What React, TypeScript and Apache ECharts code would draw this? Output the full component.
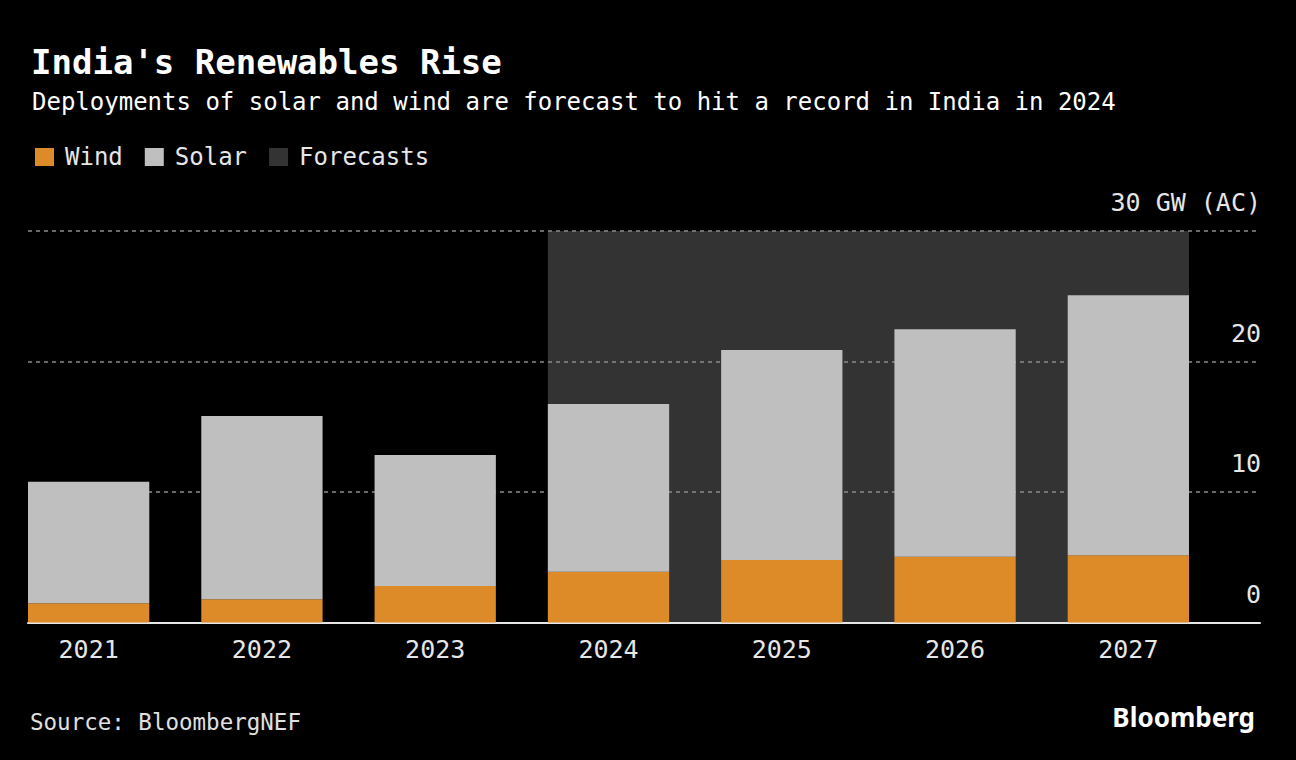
import React, { useEffect, useRef } from "react";
import * as echarts from "echarts";

const categories = ["2021", "2022", "2023", "2024", "2025", "2026", "2027"];
const windValues = [1.47, 1.78, 2.8, 3.89, 4.79, 5.04, 5.15];
const solarValues = [9.32, 14.04, 10.04, 12.85, 16.09, 17.43, 19.92];
const yTicks = [0, 10, 20, 30];
const forecastStart = "2024";
const forecastEnd = "2027";

const FONT = "'DejaVu Sans Mono', monospace";
const LOGO_FONT = "'Noto Sans', 'DejaVu Sans', sans-serif";

export default function App() {
  const ref = useRef<HTMLDivElement>(null);
  useEffect(() => {
    if (!ref.current) return;
    const chart = echarts.init(ref.current, undefined, { renderer: "svg" });
    const yMax = yTicks[yTicks.length - 1];
    const option: any = {
      animation: false,
      backgroundColor: "#000000",
      textStyle: { fontFamily: FONT },
      title: [
        {
          text: "India's Renewables Rise",
          left: 26,
          top: 40,
          textStyle: { color: "#ffffff", fontSize: 34, fontWeight: "bold", fontFamily: FONT },
        },
        {
          text: "Deployments of solar and wind are forecast to hit a record in India in 2024",
          left: 27,
          top: 85,
          textStyle: { color: "#ffffff", fontSize: 24, fontWeight: "normal", fontFamily: FONT },
        },
        {
          text: "Source: BloombergNEF",
          left: 25,
          top: 705,
          textStyle: { color: "#e0e0e0", fontSize: 22.5, fontWeight: "normal", fontFamily: FONT },
        },
        {
          text: "Bloomberg",
          right: 36,
          top: 699,
          textStyle: { color: "#ffffff", fontSize: 26, fontWeight: "bold", fontFamily: LOGO_FONT },
        },
      ],
      legend: {
        left: 30,
        top: 140,
        icon: "rect",
        itemWidth: 19,
        itemHeight: 18,
        itemGap: 22,
        data: ["Wind", "Solar", "Forecasts"],
        textStyle: { color: "#e6e6e6", fontSize: 24, fontFamily: FONT, padding: [0, 0, 0, 6] },
      },
      grid: [
        { left: 28, right: 36, top: 231, bottom: 137.5 },
        { left: 2, right: 81, top: 231, bottom: 137.5 },
      ],
      xAxis: [
        {
          type: "value",
          gridIndex: 0,
          min: 0,
          max: 1,
          axisLabel: { show: false },
          axisTick: { show: false },
          splitLine: { show: false },
          axisLine: { show: true, onZero: false, lineStyle: { color: "#e6e6e6", width: 2 } },
        },
        {
          type: "category",
          gridIndex: 1,
          data: categories,
          axisLine: { show: false },
          axisTick: { show: false },
          axisLabel: { color: "#e6e6e6", fontSize: 25, margin: 14, fontFamily: FONT },
        },
      ],
      yAxis: [
        {
          type: "value",
          gridIndex: 0,
          position: "right",
          min: 0,
          max: yMax,
          interval: 10,
          axisLine: { show: false },
          axisTick: { show: false },
          splitLine: { show: true, lineStyle: { color: "#8a8a8a", type: [4, 4], width: 1.5 } },
          axisLabel: {
            inside: true,
            align: "right",
            verticalAlign: "bottom",
            margin: -1,
            padding: [0, 0, 16, 0],
            color: "#e6e6e6",
            fontSize: 25,
            fontFamily: FONT,
            formatter: (v: number) => (v === yMax ? `${v} GW (AC)` : `${v}`),
          },
        },
        {
          type: "value",
          gridIndex: 1,
          min: 0,
          max: yMax,
          show: false,
          splitLine: { show: false },
        },
      ],
      series: [
        {
          name: "Forecasts",
          type: "custom",
          xAxisIndex: 1,
          yAxisIndex: 1,
          z: -1,
          itemStyle: { color: "#333333" },
          encode: { x: [0, 1], y: 2 },
          data: [[categories.indexOf(forecastStart), categories.indexOf(forecastEnd), yMax]],
          renderItem: (params: any, api: any) => {
            const top = api.coord([api.value(0), api.value(2)]);
            const bottom = api.coord([api.value(1), 0]);
            const band = api.size([1, 0])[0];
            const half = band * 0.35;
            return {
              type: "rect",
              shape: {
                x: top[0] - half,
                y: top[1],
                width: bottom[0] - top[0] + 2 * half,
                height: bottom[1] - top[1],
              },
              style: { fill: "#333333" },
            };
          },
        },
        {
          name: "Wind",
          type: "bar",
          stack: "total",
          xAxisIndex: 1,
          yAxisIndex: 1,
          barCategoryGap: "30%",
          itemStyle: { color: "#dc8b28" },
          data: windValues,
        },
        {
          name: "Solar",
          type: "bar",
          stack: "total",
          xAxisIndex: 1,
          yAxisIndex: 1,
          barCategoryGap: "30%",
          itemStyle: { color: "#bfbfbf" },
          data: solarValues,
        },
      ],
    };
    chart.setOption(option);
    return () => chart.dispose();
  }, []);
  return <div ref={ref} style={{ width: 1296, height: 760, position: "absolute", left: 0, top: 0 }} />;
}
